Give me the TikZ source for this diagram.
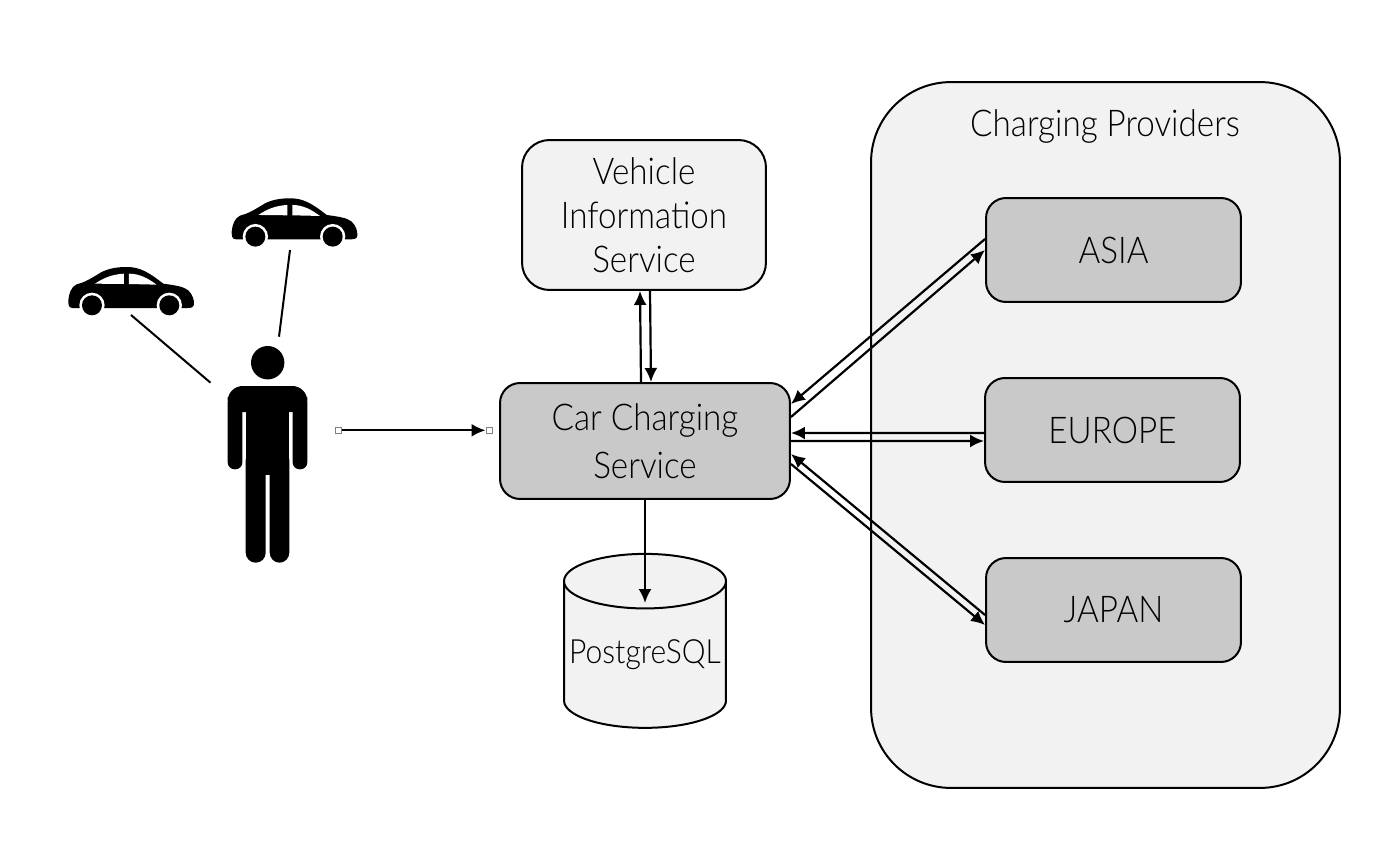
\documentclass[tikz,border=0pt]{standalone}
\usepackage{fontspec}
\setmainfont{Lato Light}[FakeStretch=.9]
\usetikzlibrary{arrows.meta,shapes.geometric}
\definecolor{lightbox}{HTML}{F2F2F2}
\definecolor{darkbox}{HTML}{C9C9C9}
\tikzset{
    box/.style={draw,line width=.04cm,rounded corners=.4cm,fill=darkbox,align=center,inner sep=0pt,font=\fontsize{21}{25}\selectfont},
    region/.style={box,fill=lightbox},
    flow/.style={line width=.044cm,-{Latex[length=.28cm,width=.26cm]}},
    tie/.style={line width=.04cm},
    handle/.style={draw=gray,fill=white,line width=.02cm,minimum size=.12cm,inner sep=0pt},
    car/.pic={
        \fill (12,123) .. controls (0,123) and (0,110) .. (0,100) .. controls (2,80) and (8,60) .. (25,52) .. controls (45,47) and (60,40) .. (100,15) .. controls (125,3) and (150,0) .. (175,0) .. controls (215,0) and (240,15) .. (285,50) .. controls (320,55) and (345,58) .. (360,70) .. controls (375,85) and (377,100) .. (377,110) .. controls (377,120) and (370,123) .. (360,123) -- cycle;
        \fill [white] (71,115) circle [radius=38];
        \fill [white] (303,115) circle [radius=38];
        \fill (71,115) circle [radius=30];
        \fill (303,115) circle [radius=30];
        \fill [white] (80,50) .. controls (110,30) and (135,22) .. (167,20) -- (167,51) -- cycle;
        \fill [white] (182,20) .. controls (215,20) and (240,35) .. (265,53) -- (182,51) -- cycle;
    }
}
\begin{document}
\begin{tikzpicture}[x=.02cm,y=-.02cm]
    \useasboundingbox (0,0) rectangle (1382,868);
    \node [region,rounded corners=1.6cm,minimum width=9.38cm,minimum height=14.12cm] (providers) at (1105.5,435) {};
    \node [font=\fontsize{21}{25}\selectfont] (providerstitle) at (1105,127) {Charging Providers};
    \node [region,rounded corners=.55cm,minimum width=4.88cm,minimum height=3cm,font=\fontsize{21}{25}\selectfont] (vehicle) at (644,215) {Vehicle\\Information\\Service};
    \node [box,minimum width=5.8cm,minimum height=2.32cm,font=\fontsize{21}{27.2}\selectfont] (charging) at (645,441) {Car Charging\\Service};
    \node [box,minimum width=5.1cm,minimum height=2.08cm] (asia) at (1113.5,250) {ASIA};
    \node [box,minimum width=5.1cm,minimum height=2.08cm] (europe) at (1112.5,430) {EUROPE};
    \node [box,minimum width=5.1cm,minimum height=2.08cm] (japan) at (1113.5,610) {JAPAN};
    \node [draw,line width=.04cm,fill=lightbox,cylinder,shape border rotate=90,aspect=.36,minimum width=3.24cm,minimum height=3.48cm,inner sep=0pt,font=\fontsize{19}{23}\selectfont] (postgres) at (645,655) {PostgreSQL};

    \fill (267.7,362.7) circle [radius=16.7];
    \fill [rounded corners=.3cm] (227.7,386) rectangle (307.3,412);
    \fill [rounded corners=.14cm] (227.7,395) rectangle (242.4,469.3);
    \fill [rounded corners=.14cm] (292.6,395) rectangle (307.3,469.3);
    \fill (245.7,400) rectangle (289.3,475);
    \fill [rounded corners=.2cm] (245.7,450) rectangle (265.7,562.7);
    \fill [rounded corners=.2cm] (269.7,450) rectangle (289.3,562.7);
    \pic [scale=1/3] at (231.7,198.3) {car};
    \pic [scale=1/3] at (68.3,267) {car};

    \coordinate (carlow) at (131,315);
    \coordinate (persona) at (210.5,382.7);
    \coordinate (carhigh) at (290,250);
    \coordinate (personb) at (279,336.7);
    \draw [tie] (carlow) -- (persona);
    \draw [tie] (carhigh) -- (personb);

    \node [handle] (start) at (338.5,430.3) {};
    \node [handle] (stop) at (489,430.3) {};
    \draw [flow] (start) -- (stop);

    \draw [flow] ([xshift=-.08cm]charging.north) -- ([xshift=-.08cm]vehicle.south);
    \draw [flow] ([xshift=.12cm]vehicle.south) -- ([xshift=.12cm]charging.north);
    \draw [flow] ([yshift=.48cm]charging.east) -- (asia.west);
    \draw [flow] ([yshift=.22cm]asia.west) -- ([yshift=.74cm]charging.east);
    \draw [flow] ([yshift=-.06cm]europe.west) -- ([yshift=.16cm]charging.east);
    \draw [flow] (charging.east) -- ([yshift=-.22cm]europe.west);
    \draw [flow] ([yshift=-.46cm]charging.east) -- ([yshift=-.3cm]japan.west);
    \draw [flow] ([yshift=-.1cm]japan.west) -- ([yshift=-.26cm]charging.east);
    \coordinate (dbin) at (645,603);
    \draw [flow] (charging.south) -- (dbin);
\end{tikzpicture}
\end{document}
